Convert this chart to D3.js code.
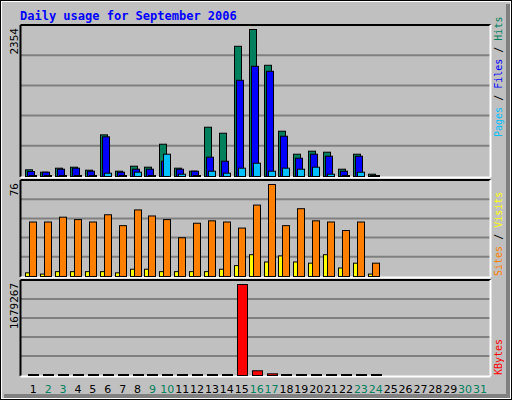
<!DOCTYPE html>
<html><head><meta charset="utf-8">
<script src="https://cdn.jsdelivr.net/npm/d3@7"></script>
<style>body{margin:0;background:#fff}svg{display:block}</style>
</head><body>
<script>
const days = d3.range(1, 32);
const weekend = [2,3,9,10,16,17,23,24,30,31];
const hits  = [107,69,133,149,101,667,85,165,149,517,133,85,789,693,2085,2354,1781,725,357,405,389,117,357,37];
const files = [80,69,117,133,85,635,69,117,117,245,117,85,309,245,1541,1765,1685,645,293,357,325,85,325,16];
const pages = [8,4,8,8,8,53,8,69,8,357,37,8,85,53,133,213,85,133,117,149,37,8,69,8];
const visits = [3,2,4,4,4,4,3,6,6,4,4,4,4,6,9,18,12,17,12,11,18,7,11,2];
const sites  = [45,45,49,47,45,51,42,55,50,47,32,44,46,45,40,59,76,42,56,46,45,38,45,11];
const kbytes = [2000,2000,2000,2000,2000,2000,2000,2000,2000,2000,2000,2000,2000,2000,1679267,87000,31000,2000,2000,2000,2000,2000,2000,2000];
const maxHits = 2354, maxVisits = 76, maxKB = 1679267;

const W = 512, H = 400;
const svg = d3.select("body").append("svg").attr("width", W).attr("height", H);
const mono = "'DejaVu Sans Mono', monospace";

svg.append("rect").attr("x",0).attr("y",0).attr("width",W).attr("height",H).attr("fill","#fff");
svg.append("rect").attr("x",2).attr("y",2).attr("width",W-4).attr("height",H-4).attr("fill","#c0c0c0");
svg.append("rect").attr("x",W-6).attr("y",4).attr("width",4).attr("height",H-6).attr("fill","#808080");
svg.append("rect").attr("x",4).attr("y",H-6).attr("width",W-6).attr("height",4).attr("fill","#808080");
svg.append("rect").attr("x",0.5).attr("y",0.5).attr("width",W-1).attr("height",H-1).attr("fill","none").attr("stroke","#000");

svg.append("text").attr("x",20).attr("y",20).attr("fill","#0000ff").attr("font-family",mono)
  .attr("font-weight","bold").attr("font-size",12).text("Daily usage for September 2006");

const x = d3.scaleLinear().domain([1,31]).range([33.3,480]);
const L = 20.5, R = 490.5;

function panel(y0, y1, max, label) {
  svg.append("rect").attr("x",L).attr("y",y0).attr("width",R-L).attr("height",y1-y0).attr("fill","#c0c0c0");
  const y = d3.scaleLinear().domain([0,max]).range([y1, y0+4]);
  const step = (y1-y0)/5;
  for (let i=1;i<5;i++) svg.append("line").attr("x1",L).attr("x2",R).attr("y1",y1-i*step).attr("y2",y1-i*step).attr("stroke","#808080").attr("stroke-width",2);
  svg.append("line").attr("x1",L).attr("x2",R).attr("y1",y0).attr("y2",y0).attr("stroke","#000").attr("stroke-width",2);
  svg.append("line").attr("x1",L).attr("x2",L).attr("y1",y0).attr("y2",y1+1).attr("stroke","#000").attr("stroke-width",2);
  svg.append("line").attr("x1",R).attr("x2",R).attr("y1",y0).attr("y2",y1+1).attr("stroke","#fff").attr("stroke-width",2);
  svg.append("line").attr("x1",L).attr("x2",R).attr("y1",y1+1.5).attr("y2",y1+1.5).attr("stroke","#fff").attr("stroke-width",2);
  svg.append("text").attr("transform",`translate(18,${y0+3}) rotate(-90)`).attr("text-anchor","end")
    .attr("font-family",mono).attr("font-size",11).attr("fill","#000").text(label);
  return y;
}
function bars(y, data, color, off, w) {
  svg.append("g").selectAll("rect").data(data).join("rect")
    .attr("x",(d,i)=>Math.round(x(i+1))+off+0.5).attr("width",w)
    .attr("y",d=>Math.min(y(d), y(0)-1)+0.5).attr("height",d=>Math.max(1, y(0)-y(d)))
    .attr("fill",color).attr("stroke","#000").attr("stroke-width",1);
}
function sideLabel(yend, parts) {
  const t = svg.append("text").attr("transform",`translate(502,${yend}) rotate(-90)`).attr("text-anchor","start")
    .attr("font-family",mono).attr("font-size",10);
  parts.forEach(([s,c])=>t.append("tspan").attr("fill",c).text(s));
}

const y1 = panel(25, 176, maxHits, String(maxHits));
bars(y1, hits, "#00805c", -8, 7);
bars(y1, files, "#0000ff", -6, 7);
bars(y1, pages, "#00c0ff", -4, 7);
sideLabel(137, [["Pages","#00c0ff"],[" / ","#000"],["Files","#0000ff"],[" / ","#000"],["Hits","#00805c"]]);

const y2 = panel(180, 276, maxVisits, String(maxVisits));
bars(y2, visits, "#ffff00", -8, 5);
bars(y2, sites, "#ff8000", -4, 7);
sideLabel(276, [["Sites","#ff8000"],[" / ","#000"],["Visits","#ffff00"]]);

const y3 = panel(280, 375, maxKB, String(maxKB));
bars(y3, kbytes, "#ff0000", -5, 10);
sideLabel(375, [["KBytes","#ff0000"]]);

svg.append("g").selectAll("text").data(days).join("text")
  .attr("x",d=>x(d)).attr("y",393).attr("text-anchor","middle")
  .attr("font-family","'DejaVu Sans', sans-serif").attr("font-size",11)
  .attr("fill",d=>weekend.includes(d)?"#00805c":"#000").text(d=>d);
</script>
</body></html>
